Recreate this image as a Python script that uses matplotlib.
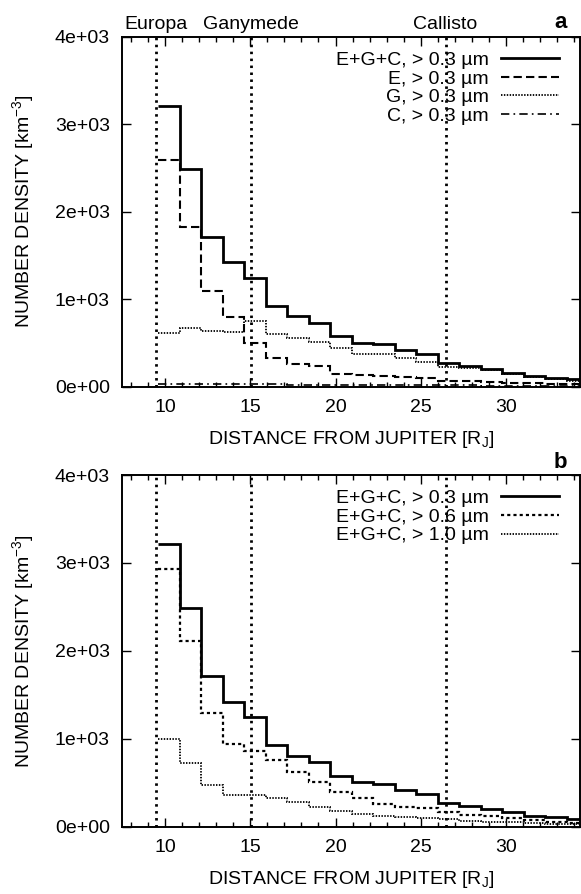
import matplotlib
matplotlib.use("Agg")
import matplotlib.pyplot as plt
import numpy as np

plt.rcParams['font.family'] = ['Liberation Sans', 'DejaVu Sans']
plt.rcParams['mathtext.default'] = 'regular'

# ---------------- data ----------------
bin_edges = [9.6, 10.86, 12.12, 13.38, 14.64, 15.9, 17.16, 18.42, 19.68, 20.94,
             22.2, 23.46, 24.72, 25.98, 27.24, 28.5, 29.76, 31.02, 32.28, 33.54, 34.8]

# panel a: > 0.3 micron, by source
egc_03 = [3210, 2485, 1715, 1422, 1246, 926, 805, 732, 575, 505,
          485, 415, 372, 275, 237, 205, 162, 126, 105, 85]
e_03 = [2590, 1820, 1090, 793, 496, 332, 256, 237, 145, 134,
        122, 107, 96, 69, 60, 55, 48, 42, 36, 30]
g_03 = [610, 667, 637, 622, 755, 600, 553, 507, 439, 370,
        370, 325, 286, 222, 210, 190, 145, 107, 85, 69]
c_03 = [35, 34, 32, 30, 28, 27, 25, 24, 22, 20,
        19, 18, 17, 15, 14, 13, 12, 11, 10, 9]

# panel b: E+G+C by size threshold
egc_06 = [2934, 2114, 1296, 941, 865, 754, 622, 507, 393, 328,
          262, 229, 217, 171, 134, 122, 96, 77, 57, 40]
egc_10 = [999, 725, 469, 362, 362, 331, 279, 229, 183, 150,
          120, 114, 103, 84, 65, 52, 48, 38, 30, 27]

moon_names = ['Europa', 'Ganymede', 'Callisto']
moon_dist = [9.45, 15.05, 26.45]

labels_a = ['E+G+C, > 0.3 µm', 'E, > 0.3 µm', 'G, > 0.3 µm', 'C, > 0.3 µm']
labels_b = ['E+G+C, > 0.3 µm', 'E+G+C, > 0.6 µm', 'E+G+C, > 1.0 µm']

xticks = [10, 15, 20, 25, 30]
yticks = [0, 1000, 2000, 3000, 4000]
ytick_labels = ['0e+00', '1e+03', '2e+03', '3e+03', '4e+03']
xlim = (7.5, 34.3)
ylim = (0, 4000)

# ---------------- figure ----------------
W, H = 581, 894
fig = plt.figure(figsize=(W / 100, H / 100), dpi=100)

FS = 14


def px_axes(left, top, right, bottom):
    return [left / W, 1 - bottom / H, (right - left) / W, (bottom - top) / H]


ax_a = fig.add_axes(px_axes(122.3, 36.7, 579.5, 386.7))
ax_b = fig.add_axes(px_axes(122.3, 475.0, 579.5, 826.7))

moon_style = dict(color='black', lw=2.0, linestyle=(0, (0.9, 1.6)), zorder=1)


def style_axes(ax):
    ax.set_xlim(*xlim)
    ax.set_ylim(*ylim)
    ax.set_xticks(xticks)
    ax.set_xticks(np.arange(8, 35, 1), minor=True)
    ax.set_yticks(yticks)
    ax.set_yticklabels(ytick_labels)
    ax.tick_params(which='both', direction='in', top=True, right=True,
                   labelsize=FS, width=1.0)
    ax.tick_params(which='major', length=6.5)
    ax.tick_params(which='minor', length=3.5)
    ax.tick_params(axis='y', pad=9)
    ax.tick_params(axis='x', pad=9)
    for s in ax.spines.values():
        s.set_linewidth(1.4)
    ax.set_xlabel('DISTANCE FROM JUPITER [R$_J$]', fontsize=FS, labelpad=9)
    ax.set_ylabel('NUMBER DENSITY [km$^{-3}$]', fontsize=FS, labelpad=13.5)
    for d in moon_dist:
        ax.axvline(d, **moon_style)


style_axes(ax_a)
style_axes(ax_b)

# panel a
ax_a.stairs(egc_03, bin_edges, baseline=None, color='black', lw=2.0,
            label=labels_a[0], zorder=4)
ax_a.stairs(e_03, bin_edges, baseline=None, color='black', lw=1.5,
            linestyle=(0, (4, 2)), label=labels_a[1], zorder=3)
ax_a.stairs(g_03, bin_edges, baseline=None, color='black', lw=1.3,
            linestyle=(0, (0.8, 0.8)), label=labels_a[2], zorder=3)
ax_a.stairs(c_03, bin_edges, baseline=None, color='black', lw=1.2,
            linestyle=(0, (5, 2.5, 1, 2.5)), label=labels_a[3], zorder=3)

# panel b
ax_b.stairs(egc_03, bin_edges, baseline=None, color='black', lw=2.0,
            label=labels_b[0], zorder=4)
ax_b.stairs(egc_06, bin_edges, baseline=None, color='black', lw=1.6,
            linestyle=(0, (1.4, 1.4)), label=labels_b[1], zorder=3)
ax_b.stairs(egc_10, bin_edges, baseline=None, color='black', lw=1.3,
            linestyle=(0, (0.8, 0.8)), label=labels_b[2], zorder=3)

for ax in (ax_a, ax_b):
    leg = ax.legend(loc='upper right', frameon=False, fontsize=FS,
                    markerfirst=False, handlelength=3.0, handletextpad=0.6,
                    labelspacing=0.05, borderaxespad=0.3,
                    bbox_to_anchor=(0.985, 0.997))

# moon labels above panel a
for name, d in zip(moon_names, moon_dist):
    ax_a.text(d, 1.022, name, transform=ax_a.get_xaxis_transform(),
              ha='center', va='baseline', fontsize=FS)

# panel letters
ax_a.text(0.958, 1.024, 'a', transform=ax_a.transAxes, ha='center',
          va='baseline', fontsize=FS + 2, fontweight='bold')
ax_b.text(0.958, 1.02, 'b', transform=ax_b.transAxes, ha='center',
          va='baseline', fontsize=FS + 2, fontweight='bold')

fig.savefig('out.png', dpi=100)
